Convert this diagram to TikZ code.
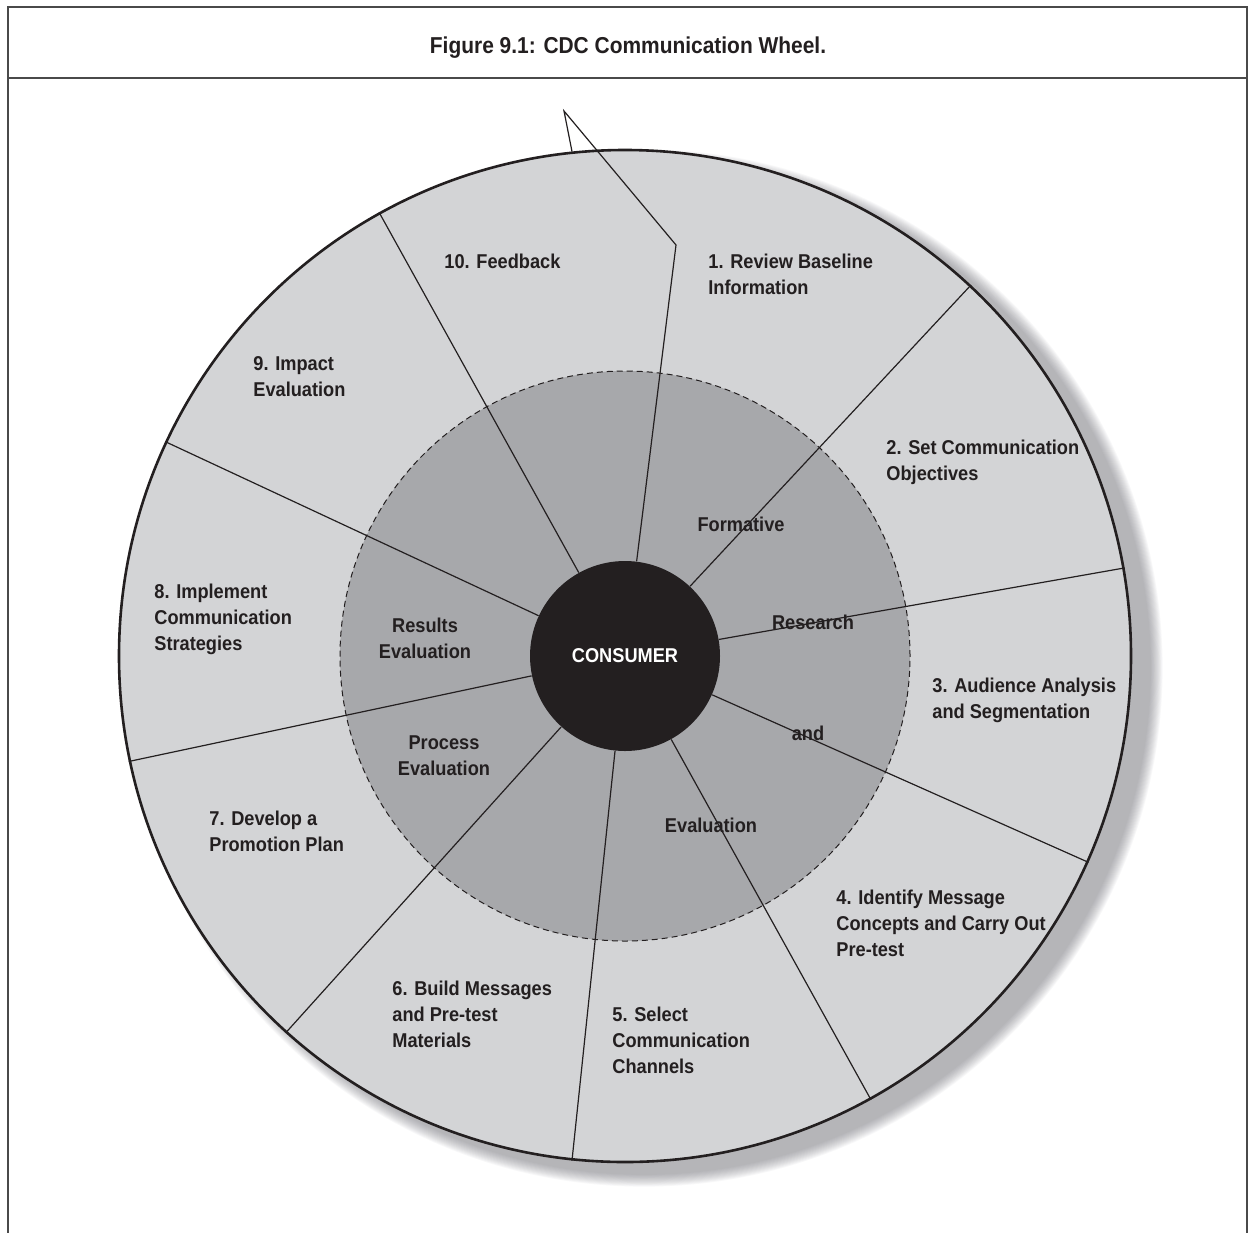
\documentclass[tikz,border=0pt]{standalone}
\usepackage{fontspec}
\setmainfont{Liberation Sans}[FakeStretch=0.91]
\usetikzlibrary{calc}
\definecolor{ringc}{HTML}{D3D4D6}
\definecolor{corec}{HTML}{A7A8AB}
\definecolor{inkc}{HTML}{231F20}
\definecolor{shadowc}{HTML}{6A6A72}
\definecolor{framec}{HTML}{4A4A4A}
\newcommand\wheelfont{\fontsize{10}{13}\selectfont\bfseries}
\begin{document}
\begin{tikzpicture}[x=0.5pt,y=-0.5pt,
  frame/.style={draw=framec,line width=1pt},
  ring/.style={circle,draw=inkc,line width=1.3pt,fill=ringc,minimum size=506pt,inner sep=0pt},
  core/.style={circle,draw=inkc,line width=0.5pt,dash pattern=on 3pt off 2pt,fill=corec,minimum size=285pt,inner sep=0pt},
  hub/.style={circle,fill=inkc,minimum size=95pt,inner sep=0pt,text=white,font=\wheelfont},
  spoke/.style={draw=inkc,line width=0.6pt},
  steplbl/.style={anchor=north west,yshift=3.7pt,inner sep=0pt,align=left,font=\wheelfont,text=inkc},
  midlbl/.style={anchor=center,inner sep=0pt,align=center,font=\wheelfont,text=inkc},
  titlelbl/.style={anchor=base,inner sep=0pt,font=\fontsize{11.5}{14}\selectfont\bfseries,text=inkc}]

\useasboundingbox[fill=white] (0,0) rectangle (1252,1232);

% frame and title
\draw[frame] (8,1240) -- (8,7) -- (1247,7) -- (1247,1240);
\draw[frame] (8,78) -- (1247,78);
\node[titlelbl] (title) at (628,53) {Figure 9.1: CDC Communication Wheel.};

% shadow (soft, to the lower right)
\coordinate (sh) at (644,668);
\foreach \i in {1,...,14}
  \fill[shadowc,fill opacity=0.042] (sh) circle[radius={253pt+\i*0.45pt}];

% discs
\node[ring] (ring) at (625,656) {};
\node[core] (core) at (625,656) {};
\node[hub] (hub) at (625,656) {CONSUMER};

% spokes
\foreach \a in {47.3,10.3,-24.8,-61.3,-96.9,-132.8,-168.9,155.9,119.5}
  \draw[spoke] (hub.\a) -- (ring.\a);
\coordinate (kink) at (676,245);
\coordinate (peak) at (564,111);
\draw[spoke] (hub.83) -- (kink) -- (peak) -- (ring.96.9);

% step labels
\node[steplbl] (l1) at (708,261) {1. Review Baseline\\Information};
\node[steplbl] (l2) at (886,447) {2. Set Communication\\Objectives};
\node[steplbl] (l3) at (932,685) {3. Audience Analysis\\and Segmentation};
\node[steplbl] (l4) at (836,897) {4. Identify Message\\Concepts and Carry Out\\Pre-test};
\node[steplbl] (l5) at (612,1014) {5. Select\\Communication\\Channels};
\node[steplbl] (l6) at (392,988) {6. Build Messages\\and Pre-test\\Materials};
\node[steplbl] (l7) at (209,818) {7. Develop a\\Promotion Plan};
\node[steplbl] (l8) at (154,591) {8. Implement\\Communication\\Strategies};
\node[steplbl] (l9) at (253,364) {9. Impact\\Evaluation};
\node[steplbl] (l10) at (444,261) {10. Feedback};

% inner labels
\node[midlbl] (m1) at (741,524) {Formative};
\node[midlbl] (m2) at (813,622) {Research};
\node[midlbl] (m3) at (808,733) {and};
\node[midlbl] (m4) at (711,825) {Evaluation};
\node[midlbl] (m5) at (425,638) {Results\\Evaluation};
\node[midlbl] (m6) at (444,756) {Process\\Evaluation};
\end{tikzpicture}
\end{document}
